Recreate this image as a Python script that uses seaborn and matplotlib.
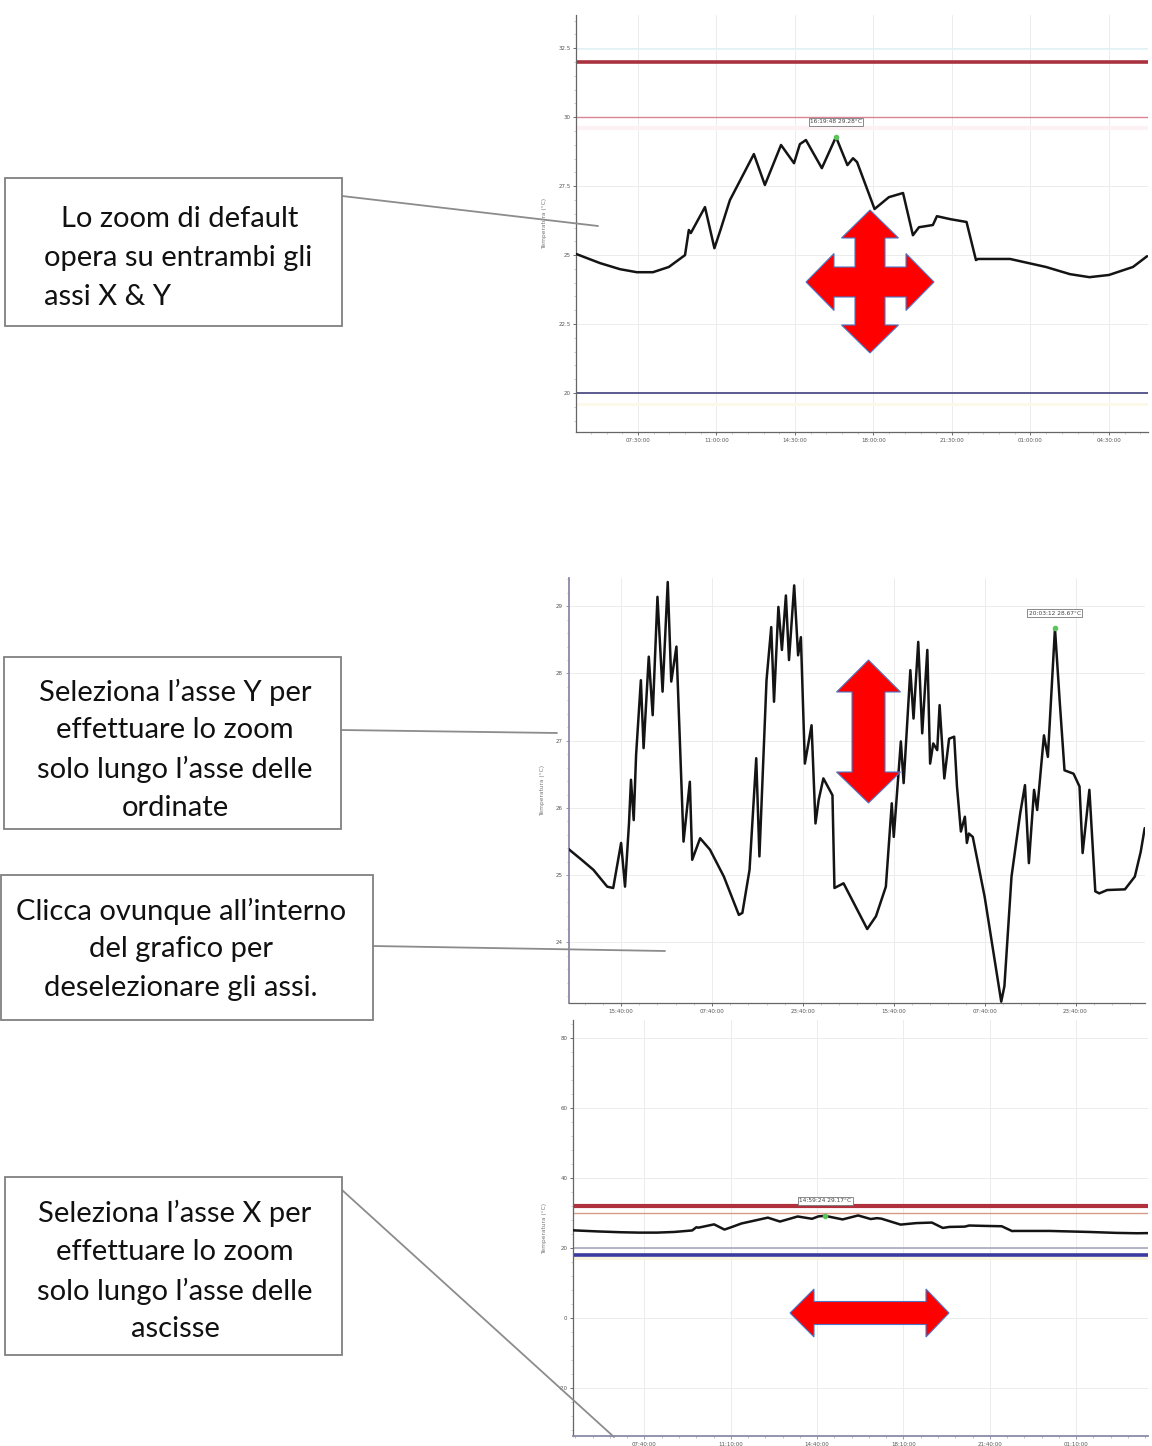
import numpy as np
import pandas as pd
import matplotlib.pyplot as plt
import seaborn as sns
from matplotlib.patches import Polygon, Rectangle
from matplotlib.lines import Line2D
from matplotlib.ticker import FixedLocator, AutoMinorLocator

sns.set_theme(style="whitegrid")
plt.rcParams["font.family"] = ["Lato", "DejaVu Sans"]

W, H = 1152, 1446

# --- data: chart 1 / chart 3 (ore dall'inizio del giorno 1, temperatura °C)
hours_1 = [4.75, 5.81, 6.70, 7.45, 8.17, 8.88, 9.60, 9.77, 9.86, 10.49, 10.91, 11.18,
           11.60, 12.67, 13.16, 13.88, 14.46, 14.72, 14.99, 15.17, 15.70, 16.33,
           16.84, 17.09, 17.27, 18.05, 18.69, 19.32, 19.76, 20.03, 20.65, 20.83,
           21.44, 22.15, 22.57, 22.66, 24.09, 25.69, 26.76, 27.63, 28.50, 29.57, 30.20]
temp_1 = [25.04, 24.71, 24.49, 24.38, 24.38, 24.57, 25.00, 25.91, 25.80, 26.74, 25.25, 25.91,
          26.99, 28.66, 27.54, 28.99, 28.33, 29.02, 29.17, 28.91, 28.15, 29.28,
          28.26, 28.51, 28.37, 26.67, 27.10, 27.25, 25.72, 26.01, 26.09, 26.41,
          26.30, 26.20, 24.82, 24.86, 24.86, 24.57, 24.31, 24.20, 24.28, 24.57, 24.96]

# --- data: chart 2 (più giorni)
hours_2 = [6.41, 8.71, 10.80, 13.23, 14.28, 15.67, 16.36, 17.06, 17.41, 17.89, 18.31, 19.15,
           19.63, 20.54, 21.23, 22.07, 22.97, 23.88, 24.50, 25.41, 26.66, 27.77, 28.19,
           29.58, 31.32, 33.76, 36.40, 37.02, 38.28, 39.46, 40.02, 41.27, 42.10, 42.59,
           43.36, 43.98, 44.68, 45.23, 46.14, 46.83, 47.32, 48.02, 49.20, 49.89, 50.45,
           51.28, 52.88, 53.23, 54.83, 59.00, 60.54, 62.28, 63.32, 63.67, 64.92, 65.41,
           66.59, 67.15, 67.98, 68.68, 69.58, 70.07, 70.62, 71.32, 71.74, 72.57, 73.41,
           74.31, 74.80, 75.49, 76.19, 76.54, 76.89, 77.58, 79.67, 82.59, 83.15, 84.40,
           85.93, 86.77, 87.46, 88.37, 88.92, 90.11, 90.80, 92.05, 92.89, 93.73, 95.32,
           96.37, 96.92, 98.11, 99.15, 99.85, 101.24, 104.37, 106.11, 107.15, 107.85]
temp_2 = [25.39, 25.23, 25.08, 24.83, 24.81, 25.48, 24.83, 25.77, 26.42, 25.82, 26.79, 27.90,
          26.89, 28.25, 27.38, 29.14, 27.73, 29.36, 27.88, 28.40, 25.50, 26.39, 25.23,
          25.55, 25.38, 24.98, 24.41, 24.44, 25.08, 26.74, 25.28, 27.90, 28.69, 27.58,
          28.99, 28.35, 29.16, 28.20, 29.31, 28.27, 28.54, 26.66, 27.23, 25.77, 26.12,
          26.44, 26.19, 24.81, 24.88, 24.20, 24.39, 24.83, 26.07, 25.57, 26.99, 26.37,
          28.05, 27.33, 28.47, 27.11, 28.35, 26.66, 26.96, 26.86, 27.53, 26.44, 27.03,
          27.06, 26.32, 25.65, 25.87, 25.48, 25.62, 25.57, 24.68, 23.12, 23.35, 24.98,
          25.92, 26.34, 25.18, 26.27, 25.97, 27.08, 26.76, 28.67, 27.58, 26.56, 26.51,
          26.32, 25.33, 26.27, 24.76, 24.73, 24.78, 24.79, 24.98, 25.35, 25.70]

# ticks
xticks_1 = [7.5, 11.0, 14.5, 18.0, 21.5, 25.0, 28.5]
xlabels_1 = ["07:30:00", "11:00:00", "14:30:00", "18:00:00", "21:30:00", "01:00:00", "04:30:00"]
yticks_1 = [20, 22.5, 25, 27.5, 30, 32.5]

xticks_2 = [15.667, 31.667, 47.667, 63.667, 79.667, 95.667]
xlabels_2 = ["15:40:00", "07:40:00", "23:40:00", "15:40:00", "07:40:00", "23:40:00"]
yticks_2 = [24, 25, 26, 27, 28, 29]

xticks_3 = [7.667, 11.167, 14.667, 18.167, 21.667, 25.167]
xlabels_3 = ["07:40:00", "11:10:00", "14:40:00", "18:10:00", "21:40:00", "01:10:00"]
yticks_3 = [-20, 0, 20, 40, 60, 80]

# soglie (allarmi)
thresholds_1 = [32.45, 32.0, 30.0, 29.6, 20.0, 19.6]
thresholds_3 = [32.0, 30.0, 20.0, 18.0, 17.0]
thr_style_1 = [("#e2f3f6", 1.2), ("#a8323e", 2.6), ("#d98595", 1.0), ("#fdf1f4", 3.0),
               ("#5b5b8f", 1.4), ("#fcf8e8", 2.0)]
thr_style_3 = [("#b0303e", 3.0), ("#d89a88", 1.0), ("#a7a9bd", 1.2), ("#3a3aa0", 2.6),
               ("#f8f3dc", 2.0)]

# punto evidenziato (ora del picco mostrato) ed etichetta
peak_hour_1 = 16.33
peak_hour_2 = 92.05
peak_hour_3 = 14.99
peak_label_1 = "16:19:48 29.28°C"
peak_label_2 = "20:03:12 28.67°C"
peak_label_3 = "14:59:24 29.17°C"

# annotation boxes (testo)
box_lines = [
    ["Lo zoom di default", "opera su entrambi gli", "assi X & Y"],
    ["Seleziona l’asse Y per", "effettuare lo zoom", "solo lungo l’asse delle", "ordinate"],
    ["Clicca ovunque all’interno", "del grafico per", "deselezionare gli assi."],
    ["Seleziona l’asse X per", "effettuare lo zoom", "solo lungo l’asse delle", "ascisse"],
]


def fig_xy(x, y):
    return x / W, 1 - y / H


def add_axes_px(fig, left, top, right, bottom):
    return fig.add_axes([left / W, 1 - bottom / H, (right - left) / W, (bottom - top) / H])


def draw_chart(ax, hours, temps, xlim, ylim, xticks, xlabels, yticks, peak_hour, peak_label,
               thresholds=None, thr_style=None, y_sel=False, x_sel=False):
    df = pd.DataFrame({"ora": hours, "temperatura": temps})
    for val, (col, lw) in zip(thresholds or [], thr_style or []):
        ax.axhline(val, color=col, lw=lw, zorder=1)
    sns.lineplot(data=df, x="ora", y="temperatura", ax=ax, color="#141414", lw=1.8, zorder=3)

    pk = df.loc[(df.ora - peak_hour).abs().idxmin()]
    ax.plot(pk.ora, pk.temperatura, "o", color="#5cc45c", ms=3, zorder=4)
    dy = (ylim[1] - ylim[0]) * 0.03
    ax.text(pk.ora, pk.temperatura + dy, peak_label, fontsize=4.2, ha="center", va="bottom",
            family="DejaVu Sans", color="#444",
            bbox=dict(boxstyle="square,pad=0.25", fc="white", ec="#777", lw=0.6))

    ax.set_xlim(*xlim)
    ax.set_ylim(*ylim)
    ax.xaxis.set_major_locator(FixedLocator(xticks))
    ax.set_xticklabels(xlabels)
    ax.yaxis.set_major_locator(FixedLocator(yticks))
    ax.set_yticklabels([f"{v:g}" for v in yticks])
    ax.xaxis.set_minor_locator(AutoMinorLocator(5))
    ax.yaxis.set_minor_locator(AutoMinorLocator(5))
    ax.set_xlabel("")
    ax.set_ylabel("Temperatura (°C)", fontsize=4.2, color="#777", family="DejaVu Sans", labelpad=8)
    ax.tick_params(axis="both", which="major", labelsize=4, colors="#555", length=2.5,
                   width=0.6, pad=1.5, left=True, bottom=True)
    ax.tick_params(axis="both", which="minor", length=1.2, width=0.4, colors="#aaa",
                   left=True, bottom=True)
    for t in ax.get_xticklabels() + ax.get_yticklabels():
        t.set_family("DejaVu Sans")
    ax.grid(True, which="major", color="#ececec", lw=0.7)
    ax.set_facecolor("white")
    for s in ["top", "right"]:
        ax.spines[s].set_visible(False)
    ax.spines["left"].set_color("#8a8aa8" if y_sel else "#666")
    ax.spines["bottom"].set_color("#8a8aa8" if x_sel else "#666")
    ax.spines["left"].set_linewidth(1.3 if y_sel else 0.9)
    ax.spines["bottom"].set_linewidth(1.3 if x_sel else 0.9)
    if y_sel:
        ax.tick_params(axis="y", which="both", colors="#8a8aa8", labelcolor="#555")
    if x_sel:
        ax.tick_params(axis="x", which="both", colors="#8a8aa8", labelcolor="#555")


fig = plt.figure(figsize=(W / 100, H / 100), dpi=100)
fig.patch.set_facecolor("white")

ax1 = add_axes_px(fig, 576, 15, 1148, 432)
draw_chart(ax1, hours_1, temp_1, (4.74, 30.24), (18.59, 33.7), xticks_1, xlabels_1, yticks_1,
           peak_hour_1, peak_label_1, thresholds_1, thr_style_1)

ax2 = add_axes_px(fig, 568.5, 578, 1145, 1003)
draw_chart(ax2, hours_2, temp_2, (6.41, 107.9), (23.10, 29.42), xticks_2, xlabels_2, yticks_2,
           peak_hour_2, peak_label_2, y_sel=True)

ax3 = add_axes_px(fig, 573, 1020, 1148, 1436)
draw_chart(ax3, hours_1, temp_1, (4.77, 28.08), (-33.7, 85.1), xticks_3, xlabels_3, yticks_3,
           peak_hour_3, peak_label_3, thresholds_3, thr_style_3, x_sel=True)

# --- caselle di testo a sinistra
box_rects = [(5, 178, 342, 326), (4, 657, 341, 829), (1, 875, 373, 1020), (5, 1177, 342, 1355)]
line_y = [[219, 258, 297], [692, 730, 769, 808], [911, 949, 988], [1213, 1252, 1291, 1329]]
line_x = [[180, 44, 44], [175] * 4, [181] * 3, [175] * 4]
line_ha = [["center", "left", "left"], ["center"] * 4, ["center"] * 3, ["center"] * 4]
for (x0, y0, x1, y1), lines, xs, ys, has in zip(box_rects, box_lines, line_x, line_y, line_ha):
    fx, fy = fig_xy(x0, y1)
    fig.add_artist(Rectangle((fx, fy), (x1 - x0) / W, (y1 - y0) / H, transform=fig.transFigure,
                             fc="white", ec="#808080", lw=1.3, zorder=6))
    for txt, tx, ty, ha in zip(lines, xs, ys, has):
        fx, fy = fig_xy(tx, ty)
        fig.text(fx, fy, txt, fontsize=21, ha=ha, va="center", color="#111", zorder=7)

# linee di collegamento
connectors = [((342, 196), (598, 226)), ((341, 730), (557, 733)),
              ((373, 946), (665, 951)), ((342, 1190), (614, 1437))]
for (xa, ya), (xb, yb) in connectors:
    pa, pb = fig_xy(xa, ya), fig_xy(xb, yb)
    fig.add_artist(Line2D([pa[0], pb[0]], [pa[1], pb[1]], transform=fig.transFigure,
                          color="#8c8c8c", lw=1.3, zorder=5))

# frecce rosse
quad = [(870, 210), (898.5, 238), (885, 238), (885, 267), (906, 267), (906, 253.5), (934, 282),
        (906, 310.5), (906, 297), (885, 297), (885, 325), (898.5, 325), (870, 353), (841.5, 325),
        (855, 325), (855, 297), (834, 297), (834, 310.5), (806, 282), (834, 253.5), (834, 267),
        (855, 267), (855, 238), (841.5, 238)]
vert = [(868.5, 660), (900.5, 692), (885, 692), (885, 772), (900.5, 772), (868.5, 803),
        (836.5, 772), (852, 772), (852, 692), (836.5, 692)]
horiz = [(790, 1313), (814, 1289), (814, 1301.5), (926, 1301.5), (926, 1289), (949, 1313),
         (926, 1337), (926, 1324.5), (814, 1324.5), (814, 1337)]
for shape in [quad, vert, horiz]:
    pts = np.array([fig_xy(x, y) for x, y in shape])
    fig.add_artist(Polygon(pts, closed=True, transform=fig.transFigure, fc="#ff0000",
                           ec="#4a78c8", lw=0.8, zorder=8))

fig.savefig("out.png", dpi=100)
